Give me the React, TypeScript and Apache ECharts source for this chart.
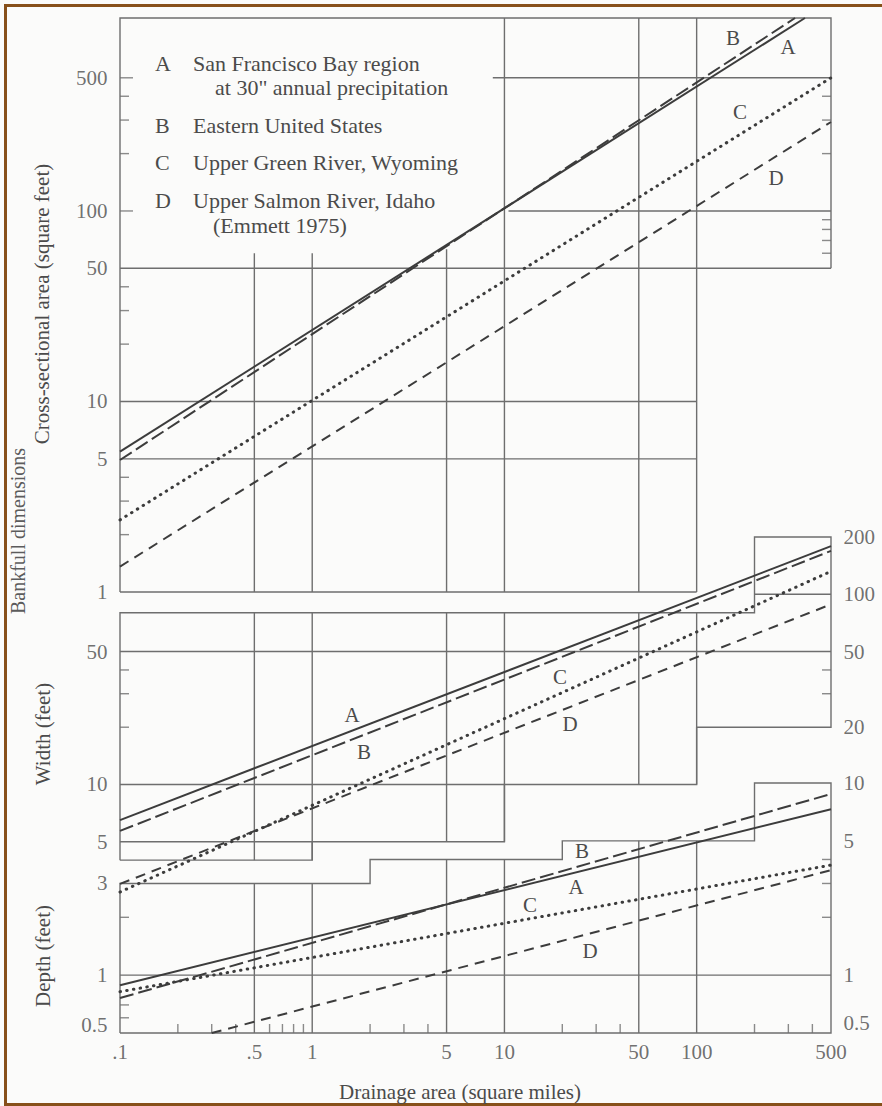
import React, { useEffect, useRef } from "react";
import * as echarts from "echarts";

// ---------- Axis ranges (drainage area in square miles, log scales) ----------
const X_RANGE = [0.1, 500];
const AREA_RANGE = [1, 1030];
const WIDTH_RANGE = [2.5, 200];
const DEPTH_RANGE = [0.5, 10];

// ---------- Curves: [drainage area (sq mi), value] ----------
const areaA = [[0.1, 5.45], [366, 1030]];
const areaB = [[0.1, 4.93], [325, 1030]];
const areaC = [[0.1, 2.39], [500, 500]];
const areaD = [[0.1, 1.36], [500, 293]];

const widthA = [[0.1, 6.5], [500, 179]];
const widthB = [[0.1, 5.7], [500, 169]];
const widthC = [[0.1, 2.72], [500, 132]];
const widthD = [[0.1, 3.0], [500, 88.5]];

const depthA = [[0.1, 0.887], [500, 7.3]];
const depthB = [[0.1, 0.76], [500, 8.77]];
const depthC = [[0.1, 0.82], [500, 3.74]];
const depthD = [[0.3, 0.5], [500, 3.52]];

// ---------- Tick values and labels ----------
const xTickValues = [0.1, 0.5, 1, 5, 10, 50, 100, 500];
const xTickLabels = [".1", ".5", "1", "5", "10", "50", "100", "500"];
const xMinorTicks = [0.2, 0.3, 0.4, 0.6, 0.7, 0.8, 0.9, 2, 3, 4, 20, 30, 40, 200, 300, 400];

const areaLeftTicks = [1, 5, 10, 50, 100, 500];
const areaLeftLabels = ["1", "5", "10", "50", "100", "500"];
const areaLeftMajor = [100, 500];
const areaLeftMinor = [2, 3, 4, 20, 30, 40, 200, 300, 400];
const areaRightMinor = [60, 70, 80, 90, 200, 300, 400];

const widthLeftTicks = [5, 10, 50];
const widthLeftLabels = ["5", "10", "50"];
const widthRightTicks = [20, 50, 100, 200];
const widthRightLabels = ["20", "50", "100", "200"];
const widthLeftMinor = [20, 30, 40];
const widthRightMinor = [30, 40];

const depthLeftTicks = [0.5, 1, 3];
const depthLeftLabels = ["0.5", "1", "3"];
const depthRightTicks = [0.5, 1, 5, 10];
const depthRightLabels = ["0.5", "1", "5", "10"];
const depthLeftMinor = [0.6, 0.7, 2];
const depthRightMinor = [2, 3, 4];

// ---------- Frames and partial grid lines (polylines in data coordinates) ----------
const areaFrame = [
  [[0.1, 1], [0.1, 1030], [500, 1030], [500, 50]],
  [[0.1, 50], [500, 50]],
  [[0.1, 1], [100, 1]],
  [[8.7, 500], [500, 500]],
  [[10.5, 100], [500, 100]],
  [[0.1, 10], [100, 10]],
  [[0.1, 5], [100, 5]],
  [[0.5, 60], [0.5, 1]],
  [[1, 60], [1, 1]],
  [[5, 63], [5, 1]],
  [[10, 1030], [10, 1]],
  [[50, 1030], [50, 1]],
  [[100, 1030], [100, 1]],
];
const widthFrame = [
  [[0.1, 4], [0.1, 80], [200, 80], [200, 200], [500, 200], [500, 20], [100, 20], [100, 10], [10, 10], [10, 5], [1, 5], [1, 4], [0.1, 4]],
  [[0.1, 50], [500, 50]],
  [[0.1, 10], [10, 10]],
  [[0.1, 5], [1, 5]],
  [[200, 100], [500, 100]],
  [[0.5, 4], [0.5, 80]],
  [[1, 4], [1, 80]],
  [[5, 5], [5, 80]],
  [[10, 5], [10, 80]],
  [[50, 10], [50, 80]],
  [[100, 10], [100, 80]],
];
const depthFrame = [
  [[0.1, 0.5], [0.1, 3], [2, 3], [2, 4], [20, 4], [20, 5], [200, 5], [200, 10], [500, 10], [500, 0.5], [0.1, 0.5]],
  [[0.1, 1], [500, 1]],
  [[0.5, 0.5], [0.5, 3]],
  [[1, 0.5], [1, 3]],
  [[5, 0.5], [5, 4]],
  [[10, 0.5], [10, 4]],
  [[50, 0.5], [50, 5]],
  [[100, 0.5], [100, 5]],
];

const legendKeys = ["A", "B", "C", "D"];
const legendLines = [
  ["San Francisco Bay region", 'at 30" annual precipitation'],
  ["Eastern United States"],
  ["Upper Green River, Wyoming"],
  ["Upper Salmon River, Idaho", "(Emmett 1975)"],
];

// ---------- Styles ----------
const FONT = '"Liberation Serif", "Times New Roman", serif';
const TEXT = "#4b4b4b";
const GRIDC = "#6e6e6e";
const CURVE = "#3c3c3c";
const curveStyle: Record<string, any> = {
  A: { type: "solid", width: 2 },
  B: { type: [14, 5], width: 2 },
  C: { type: [0.5, 6.3], width: 3, cap: "round" },
  D: { type: [10, 7], width: 2 },
};

function frameSeries(gi: number, polys: number[][][]) {
  return {
    type: "lines",
    coordinateSystem: "cartesian2d",
    xAxisIndex: gi,
    yAxisIndex: gi,
    polyline: true,
    clip: false,
    silent: true,
    z: 1,
    lineStyle: { color: GRIDC, width: 1.4, opacity: 1 },
    data: polys.map((p) => ({ coords: p })),
  };
}

function curveSeries(gi: number, key: string, data: number[][]) {
  return {
    type: "line",
    xAxisIndex: gi,
    yAxisIndex: gi,
    data,
    symbol: "none",
    showSymbol: false,
    silent: true,
    z: 3,
    lineStyle: { color: CURVE, ...curveStyle[key] },
  };
}

function tickSeries(gi: number, pts: number[][], size: number[], offset: number[]) {
  return {
    type: "scatter",
    xAxisIndex: gi,
    yAxisIndex: gi,
    symbol: "rect",
    symbolSize: size,
    symbolOffset: offset,
    clip: false,
    silent: true,
    z: 2,
    itemStyle: { color: GRIDC },
    data: pts,
  };
}

function labelSeries(gi: number, pts: number[][], texts: string[], position: string, distance: number, offsets?: (number[] | null)[]) {
  return {
    type: "scatter",
    xAxisIndex: gi,
    yAxisIndex: gi,
    symbolSize: 1,
    clip: false,
    silent: true,
    z: 4,
    itemStyle: { color: "transparent" },
    label: { show: true, position, distance, color: TEXT, fontSize: 21, fontFamily: FONT },
    data: pts.map((p, i) => ({
      value: p,
      label: { formatter: texts[i], ...(offsets && offsets[i] ? { offset: offsets[i] } : {}) },
    })),
  };
}

function txt(text: string, x: number, y: number, opts: any = {}) {
  const { align = "left", size = 21, color = TEXT, rotation = 0 } = opts;
  return {
    type: "text",
    x,
    y,
    rotation,
    silent: true,
    z: 10,
    style: {
      text,
      fill: color,
      fontSize: size,
      fontFamily: FONT,
      align,
      textAlign: align,
      verticalAlign: "middle",
      textVerticalAlign: "middle",
    },
  };
}

function buildOption() {
  const xMin = X_RANGE[0];
  const xMax = X_RANGE[1];
  const grids = [
    { left: 120, right: 51, top: 18, height: 574 },
    { left: 120, right: 51, top: 537, height: 362 },
    { left: 120, right: 51, top: 783, height: 250 },
  ];
  const yRanges = [AREA_RANGE, WIDTH_RANGE, DEPTH_RANGE];
  const hidden = {
    axisLine: { show: false },
    axisTick: { show: false },
    axisLabel: { show: false },
    splitLine: { show: false },
  };
  const xAxis = grids.map((_, i) => ({ type: "log", logBase: 10, gridIndex: i, min: xMin, max: xMax, ...hidden }));
  const yAxis = yRanges.map((r, i) => ({ type: "log", logBase: 10, gridIndex: i, min: r[0], max: r[1], ...hidden }));

  const atX = (x: number, vals: number[]) => vals.map((v) => [x, v]);
  const atY = (y: number, vals: number[]) => vals.map((v) => [v, y]);
  const halfOff = (vals: number[], dy: number) => vals.map((v) => (v === 0.5 ? [0, dy] : null));

  const series: any[] = [
    frameSeries(0, areaFrame),
    frameSeries(1, widthFrame),
    frameSeries(2, depthFrame),

    // ticks
    tickSeries(0, atX(xMin, areaLeftMinor), [9, 1.4], [4.5, 0]),
    tickSeries(0, atX(xMin, areaLeftMajor), [13, 1.4], [6.5, 0]),
    tickSeries(0, atX(xMax, areaRightMinor), [9, 1.4], [-4.5, 0]),
    tickSeries(1, atX(xMin, widthLeftMinor), [9, 1.4], [4.5, 0]),
    tickSeries(1, atX(xMax, widthRightMinor), [9, 1.4], [-4.5, 0]),
    tickSeries(2, atX(xMin, depthLeftMinor), [9, 1.4], [4.5, 0]),
    tickSeries(2, atX(xMax, depthRightMinor), [9, 1.4], [-4.5, 0]),
    tickSeries(2, atY(DEPTH_RANGE[0], xMinorTicks), [1.4, 9], [0, -4.5]),

    // curves
    curveSeries(0, "A", areaA),
    curveSeries(0, "B", areaB),
    curveSeries(0, "C", areaC),
    curveSeries(0, "D", areaD),
    curveSeries(1, "A", widthA),
    curveSeries(1, "B", widthB),
    curveSeries(1, "C", widthC),
    curveSeries(1, "D", widthD),
    curveSeries(2, "A", depthA),
    curveSeries(2, "B", depthB),
    curveSeries(2, "C", depthC),
    curveSeries(2, "D", depthD),

    // tick labels
    labelSeries(0, atX(xMin, areaLeftTicks), areaLeftLabels, "left", 12),
    labelSeries(1, atX(xMin, widthLeftTicks), widthLeftLabels, "left", 12),
    labelSeries(1, atX(xMax, widthRightTicks), widthRightLabels, "right", 12),
    labelSeries(2, atX(xMin, depthLeftTicks), depthLeftLabels, "left", 12, halfOff(depthLeftTicks, -8)),
    labelSeries(2, atX(xMax, depthRightTicks), depthRightLabels, "right", 12, halfOff(depthRightTicks, -10)),
    labelSeries(2, atY(DEPTH_RANGE[0], xTickValues), xTickLabels, "bottom", 8),
  ];

  const graphic: any[] = [
    // scan border
    { type: "line", silent: true, shape: { x1: 4, y1: 5.5, x2: 882, y2: 5.5 }, style: { stroke: "#87501a", lineWidth: 3 } },
    { type: "line", silent: true, shape: { x1: 5.5, y1: 4, x2: 5.5, y2: 1106 }, style: { stroke: "#87501a", lineWidth: 3 } },
    { type: "line", silent: true, shape: { x1: 4, y1: 1104.5, x2: 882, y2: 1104.5 }, style: { stroke: "#87501a", lineWidth: 3 } },

    // axis titles
    txt("Cross-sectional area (square feet)", 42, 304, { align: "center", rotation: Math.PI / 2 }),
    txt("Bankfull dimensions", 18, 531, { align: "center", rotation: Math.PI / 2, size: 20, color: "#5c5c5c" }),
    txt("Width (feet)", 43, 734, { align: "center", rotation: Math.PI / 2 }),
    txt("Depth (feet)", 43, 956, { align: "center", rotation: Math.PI / 2 }),
    txt("Drainage area (square miles)", 460, 1092, { align: "center" }),

    // curve letters
    txt("B", 733, 38, { align: "center" }),
    txt("A", 788, 47, { align: "center" }),
    txt("C", 740, 112, { align: "center" }),
    txt("D", 776, 178, { align: "center" }),
    txt("A", 352, 715, { align: "center" }),
    txt("B", 364, 752, { align: "center" }),
    txt("C", 560, 677, { align: "center" }),
    txt("D", 570, 724, { align: "center" }),
    txt("B", 582, 851, { align: "center" }),
    txt("A", 576, 887, { align: "center" }),
    txt("C", 530, 905, { align: "center" }),
    txt("D", 590, 951, { align: "center" }),
  ];

  // legend block
  const legendY = [63, 125, 162, 200];
  legendKeys.forEach((k, i) => {
    graphic.push(txt(k, 155, legendY[i], { size: 22 }));
    legendLines[i].forEach((line, j) => {
      if (j === 0) graphic.push(txt(line, 193, legendY[i], { size: 22 }));
      else graphic.push(txt(line, i === 0 ? 215 : 213, legendY[i] + (i === 0 ? 24 : 25), { size: 22 }));
    });
  });

  return {
    animation: false,
    backgroundColor: "#fbfbfa",
    grid: grids,
    xAxis,
    yAxis,
    series,
    graphic,
  };
}

export default function App() {
  const ref = useRef<HTMLDivElement>(null);
  useEffect(() => {
    document.body.style.margin = "0";
    const chart = echarts.init(ref.current as HTMLDivElement, null, { renderer: "svg" });
    chart.setOption(buildOption() as any);
    return () => chart.dispose();
  }, []);
  return <div ref={ref} style={{ position: "absolute", left: 0, top: 0, width: 882, height: 1106 }} />;
}
